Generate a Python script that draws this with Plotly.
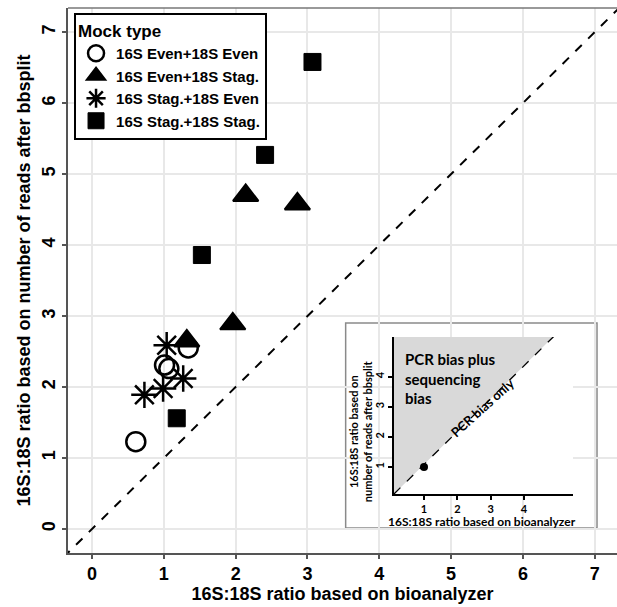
import plotly.graph_objects as go

# ---- data ----
mock_types = ["16S Even+18S Even", "16S Even+18S Stag.", "16S Stag.+18S Even", "16S Stag.+18S Stag."]
ee_x = [0.61, 1.01, 1.07, 1.34]
ee_y = [1.23, 2.31, 2.26, 2.55]
es_x = [1.32, 1.96, 2.14, 2.86]
es_y = [2.65, 2.89, 4.70, 4.58]
se_x = [1.04, 1.27, 0.99, 0.73]
se_y = [2.59, 2.12, 1.98, 1.89]
ss_x = [1.18, 1.53, 2.41, 3.07]
ss_y = [1.56, 3.86, 5.27, 6.58]

main_ticks = [0, 1, 2, 3, 4, 5, 6, 7]
identity_line = [-0.4, 7.5]

# inset schematic
inset_ticks = [1, 2, 3, 4]
inset_line_x = [0.1, 4.93]
inset_line_y = [0.1, 5.38]
inset_fill_x = [0.1, 0.1, 4.87, 0.1]
inset_fill_y = [0.1, 5.32, 5.32, 0.1]
inset_point_x = [1]
inset_point_y = [1]

FONT = "Liberation Sans"
INSET_FONT = "Lato"

fig = go.Figure()

fig.add_trace(go.Scatter(x=identity_line, y=identity_line, mode="lines",
                         line=dict(color="black", width=2, dash="dash"),
                         showlegend=False, hoverinfo="skip"))

fig.add_trace(go.Scatter(x=ee_x, y=ee_y, mode="markers", name=mock_types[0],
                         marker=dict(symbol="circle-open", size=19, color="black",
                                     line=dict(width=2.5, color="black"))))
fig.add_trace(go.Scatter(x=es_x, y=es_y, mode="markers", name=mock_types[1],
                         marker=dict(symbol="triangle-up", size=22, color="black",
                                     line=dict(width=2, color="black"))))
fig.add_trace(go.Scatter(x=se_x, y=se_y, mode="markers", name=mock_types[2],
                         marker=dict(symbol="asterisk-open", size=22, color="black",
                                     line=dict(width=2.5, color="black"))))
fig.add_trace(go.Scatter(x=ss_x, y=ss_y, mode="markers", name=mock_types[3],
                         marker=dict(symbol="square", size=17, color="black",
                                     line=dict(width=1, color="black"))))

# inset traces
fig.add_trace(go.Scatter(x=inset_fill_x, y=inset_fill_y, mode="lines", fill="toself",
                         fillcolor="#d9d9d9", line=dict(width=0, color="#d9d9d9"),
                         xaxis="x2", yaxis="y2", showlegend=False, hoverinfo="skip"))
fig.add_trace(go.Scatter(x=inset_line_x, y=inset_line_y, mode="lines",
                         line=dict(color="black", width=1.3, dash="dash"),
                         xaxis="x2", yaxis="y2", showlegend=False, hoverinfo="skip"))
fig.add_trace(go.Scatter(x=inset_point_x, y=inset_point_y, mode="markers",
                         marker=dict(size=8, color="black"),
                         xaxis="x2", yaxis="y2", showlegend=False, hoverinfo="skip"))

axis_common = dict(showgrid=True, gridcolor="#e8e8e8", gridwidth=2, zeroline=False,
                   showline=True, linecolor="#555555", linewidth=1.5,
                   ticks="outside", ticklen=4, tickcolor="#555555", tickwidth=1.5,
                   tickvals=main_ticks,
                   tickfont=dict(family=FONT, size=18, color="black", weight="bold"))

inset_axis = dict(showgrid=False, zeroline=False, showline=True, linecolor="black", linewidth=2,
                  ticks="outside", ticklen=4, tickwidth=2, tickcolor="black",
                  tickvals=inset_ticks,
                  tickfont=dict(family=INSET_FONT, size=11, color="black", weight="bold"))

fig.update_layout(
    width=617, height=607,
    margin=dict(l=68, r=0, t=8, b=54),
    paper_bgcolor="white", plot_bgcolor="white",
    xaxis=dict(range=[-0.334, 7.31], domain=[0, 1],
               title=dict(text="16S:18S ratio based on bioanalyzer", standoff=4,
                          font=dict(family=FONT, size=18, color="black", weight="bold")),
               **axis_common),
    yaxis=dict(range=[-0.338, 7.34], domain=[0, 1], tickangle=-90,
               title=dict(text="16S:18S ratio based on number of reads after bbsplit", standoff=4,
                          font=dict(family=FONT, size=18, color="black", weight="bold")),
               **axis_common),
    xaxis2=dict(domain=[0.5938, 0.9199], range=[0.1, 5.47], anchor="y2", **inset_axis),
    yaxis2=dict(domain=[0.1083, 0.3963], range=[0.1, 5.32], anchor="x2", tickangle=-90, **inset_axis),
    legend=dict(x=0.011, y=0.991, xanchor="left", yanchor="top",
                bgcolor="white", bordercolor="black", borderwidth=2,
                font=dict(family=FONT, size=15, color="black", weight="bold"),
                title=dict(text="Mock type", font=dict(family=FONT, size=17, color="black", weight="bold")),
                tracegroupgap=4),
    shapes=[
        dict(type="line", xref="paper", yref="paper", x0=0, x1=1, y0=1, y1=1,
             line=dict(color="#777777", width=1.5)),
        dict(type="rect", xref="x2 domain", yref="y2 domain", x0=-0.27, x1=1.134, y0=-0.217, y1=1.089,
             fillcolor="white", line=dict(color="#8a8a8a", width=1.5), layer="below"),
    ],
    annotations=[
        dict(xref="x2", yref="y2", x=0.37, y=4.95, xanchor="left", yanchor="top", align="left",
             text="PCR bias plus<br>sequencing<br>bias", showarrow=False,
             font=dict(family=INSET_FONT, size=15, color="black", weight="bold")),
        dict(xref="x2", yref="y2", x=2.74, y=2.95, textangle=-42,
             xanchor="center", yanchor="middle",
             text="PCR bias only", showarrow=False,
             font=dict(family=INSET_FONT, size=13, color="black", weight="bold")),
        dict(xref="x2 domain", yref="y2 domain", x=0.49, y=-0.175,
             xanchor="center", yanchor="middle",
             text="16S:18S ratio based on bioanalyzer", showarrow=False,
             font=dict(family=INSET_FONT, size=12, color="black", weight="bold")),
        dict(xref="x2 domain", yref="y2 domain", x=-0.19, y=0.40, textangle=-90,
             xanchor="center", yanchor="middle",
             text="16S:18S ratio based on<br>number of reads after bbsplit", showarrow=False,
             font=dict(family=INSET_FONT, size=11, color="black", weight="bold")),
    ],
)

fig.write_html("out.html")
